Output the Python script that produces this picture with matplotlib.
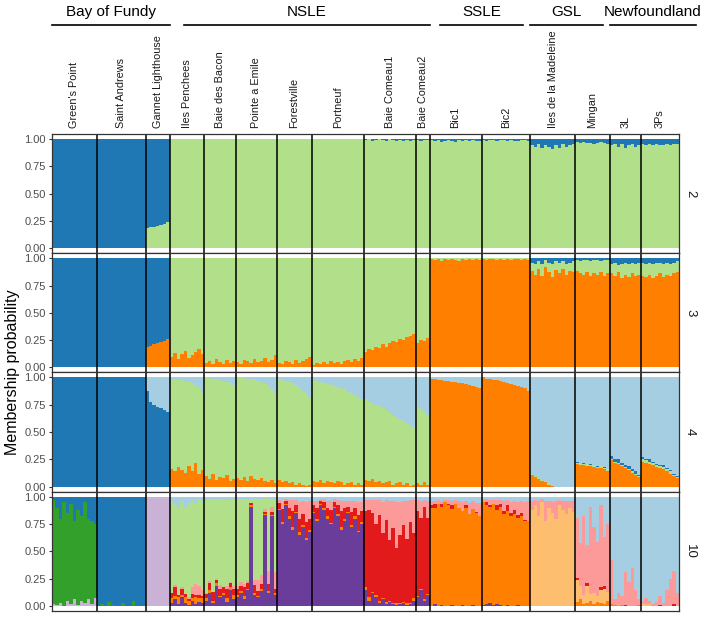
import numpy as np
import matplotlib.pyplot as plt
from matplotlib.transforms import blended_transform_factory

plt.rcParams['font.family'] = ['Liberation Sans', 'DejaVu Sans']

# populations (left to right) and number of bars drawn for each
pops = ["Green's Point", "Saint Andrews", "Gannet Lighthouse",
        "Iles Penchees", "Baie des Bacon", "Pointe a Emile", "Forestville",
        "Portneuf", "Baie Comeau1", "Baie Comeau2",
        "Bic1", "Bic2", "Iles de la Madeleine", "Mingan", "3L", "3Ps"]
n_ind = [13, 14, 7, 10, 9, 12, 10, 15, 15, 4, 15, 14, 13, 10, 9, 11]

groups = ["Bay of Fundy", "NSLE", "SSLE", "GSL", "Newfoundland"]
group_npops = [3, 7, 2, 2, 2]

# Paired palette
c_dblue = "#1f78b4"
c_lblue = "#a6cee3"
c_lgreen = "#b2df8a"
c_dgreen = "#33a02c"
c_orange = "#ff7f00"
c_lorange = "#fdbf6f"
c_purple = "#6a3d9a"
c_lav = "#cab2d6"
c_red = "#e31a1c"
c_pink = "#fb9a99"

# ---------------- K = 2 ----------------
k2_lgreen = ([0] * 13 + [0] * 14
             + [0.18, 0.19, 0.19, 0.20, 0.21, 0.22, 0.24]
             + [1] * 10 + [1] * 9 + [1] * 12 + [1] * 10 + [1] * 15
             + [0.99, 1, 0.98, 0.99, 1, 0.99, 0.98, 1, 0.99, 0.98, 0.99, 0.98, 0.99, 0.98, 0.99]
             + [0.99, 0.98, 0.99, 0.99]
             + [0.99, 0.98, 0.99, 0.97, 0.98, 0.99, 0.98, 0.97, 0.99, 0.98, 0.99, 0.98, 0.99, 0.98, 0.98]
             + [0.99, 0.98, 0.99, 0.99, 0.98, 0.99, 0.99, 0.98, 0.99, 0.98, 0.98, 0.99, 0.99, 0.98]
             + [0.94, 0.93, 0.95, 0.92, 0.94, 0.93, 0.91, 0.94, 0.92, 0.95, 0.93, 0.94, 0.95]
             + [0.97, 0.96, 0.97, 0.96, 0.96, 0.95, 0.96, 0.97, 0.96, 0.95]
             + [0.94, 0.95, 0.93, 0.95, 0.92, 0.94, 0.95, 0.93, 0.94]
             + [0.95, 0.94, 0.95, 0.94, 0.95, 0.94, 0.94, 0.95, 0.94, 0.95, 0.95])

# ---------------- K = 3 ----------------
k3_orange = ([0] * 13 + [0] * 14
             + [0.19, 0.20, 0.21, 0.22, 0.23, 0.24, 0.26]
             + [0.10, 0.13, 0.08, 0.12, 0.15, 0.09, 0.11, 0.14, 0.17, 0.12]
             + [0.04, 0.06, 0.03, 0.08, 0.05, 0.03, 0.07, 0.04, 0.06]
             + [0.05, 0.03, 0.07, 0.06, 0.04, 0.08, 0.05, 0.06, 0.09, 0.05, 0.07, 0.11]
             + [0.04, 0.03, 0.06, 0.05, 0.03, 0.07, 0.04, 0.06, 0.08, 0.10]
             + [0.02, 0.04, 0.03, 0.05, 0.03, 0.06, 0.04, 0.05, 0.03, 0.06, 0.07, 0.05, 0.08, 0.06, 0.09]
             + [0.14, 0.17, 0.16, 0.19, 0.18, 0.21, 0.19, 0.22, 0.24, 0.23, 0.26, 0.25, 0.28, 0.29, 0.31]
             + [0.22, 0.25, 0.24, 0.27]
             + [0.99, 0.98, 0.99, 0.97, 0.99, 0.98, 0.99, 0.98, 0.97, 0.99, 0.98, 0.99, 0.98, 0.99, 0.98]
             + [0.99, 0.98, 0.99, 0.99, 0.98, 0.99, 0.98, 0.99, 0.98, 0.99, 0.99, 0.98, 0.99, 0.98]
             + [0.88, 0.85, 0.90, 0.84, 0.92, 0.87, 0.83, 0.89, 0.86, 0.90, 0.85, 0.88, 0.87]
             + [0.88, 0.86, 0.85, 0.87, 0.84, 0.86, 0.85, 0.87, 0.84, 0.86]
             + [0.86, 0.84, 0.87, 0.82, 0.85, 0.83, 0.86, 0.84, 0.85]
             + [0.84, 0.83, 0.85, 0.82, 0.84, 0.86, 0.83, 0.85, 0.84, 0.86, 0.87])
k3_dblue = ([1] * 13 + [1] * 14
            + [0.81, 0.80, 0.79, 0.78, 0.77, 0.76, 0.74]
            + [0] * 75          # NSLE
            + [0] * 15 + [0] * 14
            + [0.04, 0.05, 0.03, 0.05, 0.02, 0.04, 0.05, 0.03, 0.04, 0.03, 0.05, 0.04, 0.03]
            + [0.02, 0.03, 0.02, 0.02, 0.03, 0.02, 0.02, 0.03, 0.02, 0.02]
            + [0.05, 0.04, 0.06, 0.05, 0.04, 0.05, 0.04, 0.05, 0.04]
            + [0.04, 0.05, 0.04, 0.05, 0.04, 0.04, 0.05, 0.04, 0.05, 0.04, 0.03])

# ---------------- K = 4 ----------------
k4_orange = ([0] * 13 + [0] * 14 + [0] * 7
             + [0.16, 0.14, 0.18, 0.15, 0.13, 0.19, 0.14, 0.22, 0.12, 0.15]
             + [0.10, 0.07, 0.12, 0.06, 0.09, 0.08, 0.11, 0.05, 0.07]
             + [0.08, 0.06, 0.09, 0.05, 0.10, 0.07, 0.06, 0.08, 0.05, 0.04, 0.06, 0.03]
             + [0.06, 0.04, 0.05, 0.03, 0.04, 0.02, 0.03, 0.02, 0.01, 0.02]
             + [0.05, 0.04, 0.06, 0.03, 0.05, 0.04, 0.03, 0.05, 0.04, 0.02, 0.03, 0.04, 0.02, 0.03, 0.02]
             + [0.06, 0.05, 0.07, 0.04, 0.05, 0.03, 0.04, 0.05, 0.02, 0.03, 0.04, 0.02, 0.03, 0.01, 0.02]
             + [0.03, 0.02, 0.04, 0.02]
             + [0.99, 0.99, 0.98, 0.98, 0.97, 0.97, 0.96, 0.96, 0.95, 0.95, 0.94, 0.93, 0.92, 0.91, 0.90]
             + [1.0, 0.99, 0.99, 0.98, 0.98, 0.97, 0.96, 0.95, 0.94, 0.93, 0.92, 0.91, 0.90, 0.88]
             + [0.11, 0.09, 0.07, 0.05, 0.04, 0.02, 0.01, 0, 0, 0, 0, 0, 0]
             + [0.21, 0.20, 0.20, 0.19, 0.19, 0.18, 0.17, 0.17, 0.16, 0.14]
             + [0.24, 0.22, 0.21, 0.19, 0.17, 0.15, 0.13, 0.11, 0.09]
             + [0.23, 0.22, 0.21, 0.20, 0.18, 0.17, 0.16, 0.14, 0.12, 0.10, 0.08])
k4_dblue = ([1] * 13 + [1] * 14
            + [0.88, 0.78, 0.75, 0.73, 0.72, 0.70, 0.68]
            + [0] * 75          # NSLE
            + [0] * 15 + [0] * 14 + [0] * 13
            + [0.01, 0, 0.01, 0, 0.01, 0, 0.01, 0, 0.01, 0]
            + [0.03, 0.02, 0.03, 0.02, 0.02, 0.03, 0.02, 0.02, 0.01]
            + [0.02, 0.01, 0.02, 0.01, 0.01, 0.01, 0.02, 0.01, 0.01, 0.01, 0.01])
k4_lblue = ([0] * 13 + [0] * 14
            + [0.12, 0.22, 0.25, 0.27, 0.28, 0.30, 0.32]
            + [0.01, 0.01, 0.02, 0.02, 0.03, 0.04, 0.05, 0.07, 0.10, 0.14]
            + [0, 0.005, 0.01, 0.015, 0.02, 0.03, 0.04, 0.05, 0.07]
            + [0, 0, 0.005, 0.01, 0.015, 0.02, 0.03, 0.04, 0.06, 0.08, 0.11, 0.15]
            + [0.01, 0.02, 0.03, 0.04, 0.05, 0.07, 0.09, 0.12, 0.15, 0.19]
            + [0.02, 0.03, 0.04, 0.05, 0.06, 0.07, 0.08, 0.09, 0.10, 0.11, 0.13, 0.14, 0.16, 0.18, 0.20]
            + [0.20, 0.22, 0.23, 0.25, 0.26, 0.28, 0.30, 0.32, 0.34, 0.36, 0.38, 0.40, 0.42, 0.44, 0.45]
            + [0.27, 0.29, 0.32, 0.34]
            + [0.01, 0.01, 0.02, 0.02, 0.03, 0.03, 0.04, 0.04, 0.05, 0.05, 0.06, 0.07, 0.08, 0.09, 0.10]
            + [0, 0.01, 0.01, 0.02, 0.02, 0.03, 0.04, 0.05, 0.06, 0.07, 0.08, 0.09, 0.10, 0.12]
            + [0.88, 0.90, 0.92, 0.94, 0.95, 0.97, 0.98, 1, 1, 1, 1, 1, 1]
            + [0.77, 0.78, 0.78, 0.79, 0.79, 0.80, 0.81, 0.81, 0.82, 0.84]
            + [0.72, 0.75, 0.75, 0.78, 0.80, 0.81, 0.84, 0.86, 0.89]
            + [0.73, 0.75, 0.75, 0.77, 0.79, 0.80, 0.80, 0.83, 0.85, 0.88, 0.90])

# ---------------- K = 10 ----------------
k10_purple = ([0] * 34
              + [0.03, 0.06, 0.02, 0.08, 0.03, 0.01, 0.05, 0.02, 0.04, 0.03]
              + [0.05, 0.12, 0.03, 0.18, 0.08, 0.10, 0.04, 0.15, 0.06]
              + [0.08, 0.12, 0.06, 0.15, 0.92, 0.10, 0.08, 0.14, 0.83, 0.12, 0.82, 0.10]
              + [0.88, 0.75, 0.92, 0.80, 0.70, 0.85, 0.65, 0.72, 0.60, 0.68]
              + [0.85, 0.78, 0.92, 0.88, 0.80, 0.75, 0.90, 0.82, 0.70, 0.78, 0.85, 0.72, 0.80, 0.68, 0.75]
              + [0.15, 0.05, 0.12, 0.08, 0.03, 0.06, 0.02, 0.04, 0.02, 0.01, 0.02, 0.03, 0.01, 0.02, 0.05]
              + [0.08, 0.15, 0.05, 0.10]
              + [0, 0.02, 0, 0.01, 0, 0, 0.01, 0, 0, 0.01, 0, 0, 0.01, 0, 0]
              + [0.01, 0.02, 0.03, 0.01, 0.02, 0.01, 0, 0.01, 0, 0, 0.01, 0, 0, 0]
              + [0] * 13 + [0] * 10 + [0] * 9 + [0] * 11)
k10_orange = ([0] * 34
              + [0.04, 0.03, 0.06, 0.02, 0.05, 0.04, 0.02, 0.06, 0.03, 0.04]
              + [0.02, 0.03, 0.02, 0.03, 0.01, 0.02, 0.03, 0.02, 0.04]
              + [0.02, 0.02, 0.03, 0.01, 0.02, 0.02, 0.01, 0.02, 0.01, 0.02, 0.01, 0.02]
              + [0.01, 0.02, 0.01, 0.02, 0.02, 0.01, 0.03, 0.02, 0.02, 0.02]
              + [0.01, 0.02, 0.01, 0.02, 0.02, 0.01, 0.01, 0.02, 0.02, 0.02, 0.01, 0.02, 0.02, 0.01, 0.02]
              + [0.02, 0.03, 0.01, 0.02, 0.02, 0.01, 0.02, 0.01, 0.01, 0.02, 0.01, 0.01, 0.02, 0.01, 0.02]
              + [0.01, 0.01, 0.01, 0.01]
              + [0.90, 0.88, 0.93, 0.90, 0.95, 0.92, 0.88, 0.93, 0.90, 0.86, 0.90, 0.84, 0.88, 0.85, 0.82]
              + [0.94, 0.90, 0.88, 0.92, 0.86, 0.90, 0.84, 0.86, 0.82, 0.84, 0.80, 0.82, 0.78, 0.78]
              + [0] * 13
              + [0.04, 0.06, 0.02, 0.03, 0.05, 0.02, 0.04, 0.03, 0.02, 0.05]
              + [0.02, 0.01, 0, 0.01, 0, 0, 0, 0, 0.01]
              + [0] * 11)
k10_lorange = ([0] * 34 + [0] * 75 + [0] * 15 + [0] * 14
               + [0.88, 0.92, 0.82, 0.95, 0.78, 0.90, 0.85, 0.80, 0.92, 0.88, 0.84, 0.90, 0.86]
               + [0.20, 0.12, 0.08, 0.15, 0.06, 0.10, 0.05, 0.12, 0.14, 0.08]
               + [0] * 9
               + [0.03, 0.02, 0.02, 0, 0, 0, 0, 0, 0, 0, 0])
k10_lav = ([0.02, 0.01, 0.03, 0.0, 0.05, 0.02, 0.06, 0.01, 0.05, 0.03, 0.06, 0.02, 0.07]
           + [0] * 14 + [1] * 7
           + [0] * 75 + [0] * 15 + [0] * 14 + [0] * 13 + [0] * 10 + [0] * 9 + [0] * 11)
k10_red = ([0] * 34
           + [0.05, 0.08, 0.02, 0.06, 0.03, 0.01, 0.04, 0.02, 0.03, 0.02]
           + [0.04, 0.06, 0.08, 0.03, 0.07, 0.05, 0.09, 0.04, 0.06]
           + [0.06, 0.04, 0.08, 0.05, 0.02, 0.07, 0.05, 0.04, 0.02, 0.06, 0.03, 0.04]
           + [0.05, 0.12, 0.03, 0.08, 0.15, 0.06, 0.12, 0.10, 0.15, 0.10]
           + [0.06, 0.10, 0.03, 0.05, 0.08, 0.12, 0.04, 0.08, 0.15, 0.10, 0.05, 0.12, 0.08, 0.14, 0.10]
           + [0.70, 0.80, 0.72, 0.65, 0.78, 0.60, 0.75, 0.55, 0.68, 0.50, 0.62, 0.70, 0.58, 0.74, 0.60]
           + [0.78, 0.65, 0.85, 0.70]
           + [0.02, 0.03, 0, 0.02, 0, 0.01, 0.03, 0, 0, 0, 0.02, 0, 0, 0.01, 0]
           + [0, 0.03, 0.01, 0, 0.04, 0.02, 0.03, 0.05, 0.03, 0.04, 0.02, 0.03, 0.01, 0]
           + [0] * 13
           + [0.02, 0, 0, 0.03, 0, 0, 0, 0.02, 0.02, 0]
           + [0, 0, 0, 0, 0.01, 0, 0, 0, 0]
           + [0, 0, 0, 0, 0, 0.01, 0, 0, 0, 0.02, 0])
k10_pink = ([0] * 34
            + [0, 0.02, 0, 0.01, 0, 0.02, 0.06, 0.10, 0.08, 0.06]
            + [0.01, 0.02, 0, 0.01, 0.03, 0, 0.02, 0.01, 0.02]
            + [0.02, 0.04, 0.03, 0.02, 0, 0.05, 0.10, 0.08, 0.03, 0.12, 0.05, 0.15]
            + [0.03, 0.06, 0.02, 0.07, 0.10, 0.05, 0.15, 0.12, 0.18, 0.16]
            + [0.04, 0.06, 0.02, 0.03, 0.06, 0.08, 0.03, 0.05, 0.09, 0.06, 0.05, 0.10, 0.06, 0.12, 0.08]
            + [0.10, 0.09, 0.12, 0.22, 0.14, 0.28, 0.18, 0.36, 0.25, 0.42, 0.30, 0.22, 0.35, 0.20, 0.30]
            + [0.10, 0.15, 0.06, 0.15]
            + [0.04, 0.03, 0.04, 0.03, 0.02, 0.04, 0.04, 0.04, 0.06, 0.08, 0.04, 0.10, 0.07, 0.08, 0.12]
            + [0.03, 0.03, 0.05, 0.04, 0.05, 0.04, 0.09, 0.05, 0.10, 0.08, 0.12, 0.11, 0.16, 0.18]
            + [0.08, 0.05, 0.14, 0.03, 0.18, 0.06, 0.10, 0.16, 0.05, 0.08, 0.12, 0.06, 0.10]
            + [0.55, 0.40, 0.72, 0.35, 0.80, 0.60, 0.50, 0.75, 0.45, 0.62]
            + [0.40, 0.05, 0.12, 0.08, 0.30, 0.22, 0.35, 0.15, 0.05]
            + [0.02, 0.05, 0.03, 0.02, 0.04, 0.08, 0.03, 0.15, 0.25, 0.30, 0.12])
k10_dgreen = ([0.95, 0.89, 0.77, 0.95, 0.80, 0.91, 0.72, 0.87, 0.77, 0.92, 0.74, 0.76, 0.68]
              + [0, 0.02, 0, 0.04, 0.01, 0, 0, 0.03, 0, 0, 0.05, 0, 0, 0]
              + [0] * 7 + [0] * 75 + [0] * 15 + [0] * 14 + [0] * 13 + [0] * 10 + [0] * 9 + [0] * 11)
k10_lgreen = ([0] * 34
              + [0.83, 0.73, 0.80, 0.79, 0.80, 0.86, 0.80, 0.73, 0.80, 0.80]
              + [0.85, 0.74, 0.85, 0.72, 0.79, 0.80, 0.79, 0.75, 0.80]
              + [0.80, 0.76, 0.78, 0.75, 0.04, 0.74, 0.74, 0.70, 0.10, 0.66, 0.07, 0.66]
              + [0] * 10 + [0] * 15 + [0] * 15 + [0] * 4
              + [0] * 15 + [0] * 14 + [0] * 13 + [0] * 10 + [0] * 9 + [0] * 11)
k10_dblue = ([0.03, 0.10, 0.20, 0.05, 0.15, 0.07, 0.22, 0.12, 0.18, 0.05, 0.20, 0.22, 0.25]
             + [1, 0.98, 1, 0.96, 0.99, 1, 1, 0.97, 1, 1, 0.95, 1, 1, 1]
             + [0] * 7 + [0] * 75 + [0] * 15 + [0] * 14 + [0] * 13 + [0] * 10 + [0] * 9 + [0] * 11)
k10_lblue = ([0] * 34
             + [0.05, 0.08, 0.10, 0.04, 0.09, 0.06, 0.03, 0.07, 0.02, 0.05]
             + [0.03, 0.03, 0.02, 0.03, 0.02, 0.03, 0.03, 0.03, 0.02]
             + [0.02, 0.02, 0.02, 0.02, 0.02, 0.02, 0.02, 0.02, 0.01, 0.02, 0.02, 0.03]
             + [0.03, 0.05, 0.02, 0.03, 0.03, 0.03, 0.05, 0.04, 0.05, 0.04]
             + [0.04, 0.04, 0.02, 0.02, 0.04, 0.04, 0.02, 0.03, 0.04, 0.04, 0.04, 0.04, 0.04, 0.05, 0.05]
             + [0.03, 0.03, 0.03, 0.03, 0.03, 0.05, 0.03, 0.04, 0.04, 0.05, 0.05, 0.04, 0.04, 0.03, 0.03]
             + [0.03, 0.04, 0.03, 0.04]
             + [0.04, 0.04, 0.03, 0.04, 0.03, 0.03, 0.04, 0.03, 0.04, 0.05, 0.04, 0.06, 0.04, 0.06, 0.06]
             + [0.02, 0.02, 0.03, 0.03, 0.03, 0.03, 0.04, 0.03, 0.05, 0.04, 0.05, 0.04, 0.05, 0.04]
             + [0.04, 0.03, 0.04, 0.02, 0.04, 0.04, 0.05, 0.04, 0.03, 0.04, 0.04, 0.04, 0.04]
             + [0.19, 0.42, 0.18, 0.44, 0.09, 0.28, 0.41, 0.08, 0.37, 0.25]
             + [0.58, 0.94, 0.88, 0.91, 0.70, 0.78, 0.65, 0.85, 0.94]
             + [0.95, 0.93, 0.95, 0.98, 0.96, 0.91, 0.97, 0.85, 0.75, 0.68, 0.88])

# stack order bottom -> top; None marks the cluster that takes the remainder
panels = [
    ("2", [(c_lgreen, k2_lgreen), (c_dblue, None)]),
    ("3", [(c_orange, k3_orange), (c_lgreen, None), (c_dblue, k3_dblue)]),
    ("4", [(c_orange, k4_orange), (c_lgreen, None), (c_dblue, k4_dblue), (c_lblue, k4_lblue)]),
    ("10", [(c_purple, k10_purple), (c_orange, k10_orange), (c_lorange, k10_lorange),
            (c_lav, k10_lav), (c_red, k10_red), (c_pink, k10_pink), (c_dgreen, k10_dgreen),
            (c_lgreen, k10_lgreen), (c_dblue, k10_dblue), (c_lblue, k10_lblue)]),
]

n_total = sum(n_ind)
x = np.arange(n_total) + 0.5
bounds = np.cumsum([0] + n_ind)


def draw_panel(ax, layers):
    listed = [np.asarray(v, float) for _, v in layers if v is not None]
    for v in listed:
        assert len(v) == n_total, len(v)
    rest = np.clip(1 - np.sum(listed, axis=0), 0, None)
    q = np.array([rest if v is None else np.asarray(v, float) for _, v in layers])
    q = q / q.sum(axis=0)
    bottom = np.zeros(n_total)
    for (col, _), vals in zip(layers, q):
        ax.bar(x, vals, bottom=bottom, width=1.0, color=col, linewidth=0)
        bottom += vals


fig, axes = plt.subplots(4, 1, figsize=(7.09, 6.17), dpi=100, sharex=True)
fig.subplots_adjust(left=0.0733, right=0.9577, top=0.783, bottom=0.0097, hspace=0)

for ax, (k, layers) in zip(axes, panels):
    draw_panel(ax, layers)
    for b in bounds[1:-1]:
        ax.axvline(b, color="black", lw=1.1)
    ax.set_xlim(0, n_total)
    ax.set_ylim(-0.046, 1.046)
    ax.set_yticks([0, 0.25, 0.5, 0.75, 1.0])
    ax.set_yticklabels(["0.00", "0.25", "0.50", "0.75", "1.00"])
    ax.tick_params(axis="y", labelsize=8, labelcolor="#4d4d4d", length=2.5,
                   color="#333333", pad=2)
    ax.tick_params(axis="x", length=0, labelbottom=False)
    for s in ax.spines.values():
        s.set_color("#333333")
        s.set_linewidth(0.9)
    ax.text(1.0175, 0.5, k, transform=ax.transAxes, rotation=-90,
            ha="center", va="center", fontsize=9.5, color="#1a1a1a")

fig.text(0.017, 0.397, "Membership probability", rotation=90,
         ha="center", va="center", fontsize=11.5)

# population labels
tr = blended_transform_factory(axes[0].transData, fig.transFigure)
centers = (bounds[:-1] + bounds[1:]) / 2
for name, cx in zip(pops, centers):
    fig.text(cx, 0.7925, name, transform=tr, rotation=90, ha="center",
             va="bottom", fontsize=7.8, color="#1a1a1a")

# region labels with lines above
gb = np.cumsum([0] + group_npops)
line_pad = [(0, 0), (4, 0), (3, -2), (0, -2), (0, 5)]
for i, g in enumerate(groups):
    x0 = bounds[gb[i]] + line_pad[i][0]
    x1 = bounds[gb[i + 1]] + line_pad[i][1]
    fig.add_artist(plt.Line2D([x0, x1], [0.9595, 0.9595], transform=tr,
                              color="black", lw=1.2, clip_on=False))
    fig.text((x0 + x1) / 2, 0.981, g, transform=tr, ha="center",
             va="center", fontsize=11)

fig.savefig("out.png", dpi=100)
